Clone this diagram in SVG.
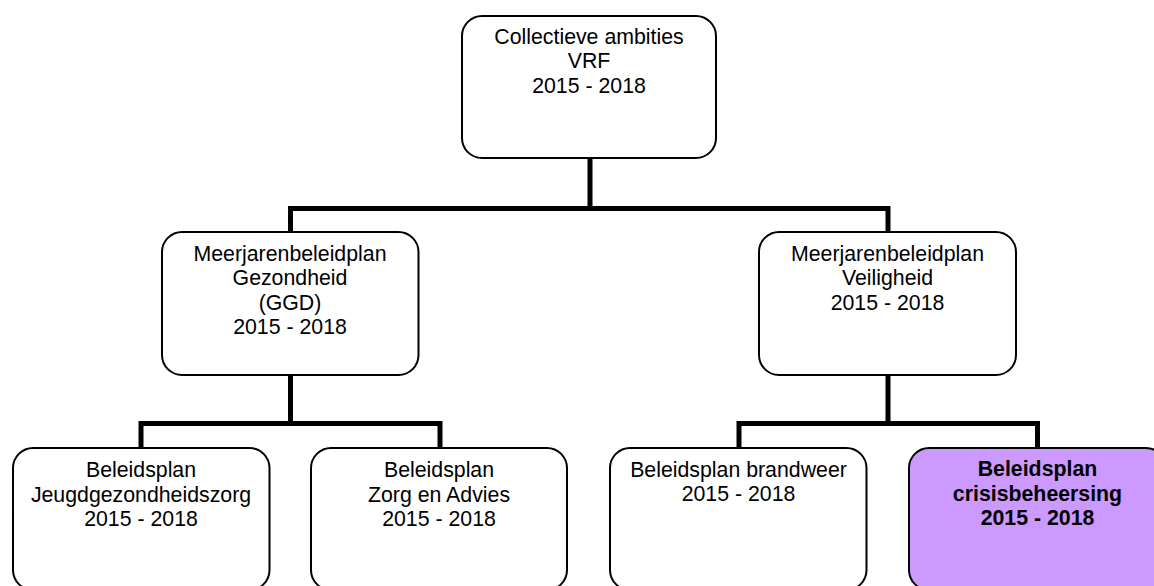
<svg xmlns="http://www.w3.org/2000/svg" width="1154" height="586" viewBox="0 0 1154 586">
<style>
.box{fill:#fff;stroke:#000;stroke-width:2}
.hl{fill:#cc99ff}
.t{font-family:"Liberation Sans",Arial,sans-serif;font-size:21.3px;fill:#000;text-anchor:middle}
.b{font-weight:bold}
.c{fill:none;stroke:#000;stroke-width:5;stroke-linecap:butt;stroke-linejoin:miter}
</style>
<rect width="1154" height="586" fill="#fff"/>
<g id="connectors">
<path class="c" d="M590,158 V208.5 M290.5,232 V208.5 H888 V232"/>
<path class="c" d="M290.5,375 V423.5 M141,448 V423.5 H440 V448"/>
<path class="c" d="M888,375 V423.5 M739,448 V423.5 H1037.5 V448"/>
</g>
<g id="n-vrf">
<rect class="box" x="462" y="16" width="254" height="142" rx="20"/>
<text class="t" x="589" y="43.5">Collectieve ambities</text>
<text class="t" x="589" y="68">VRF</text>
<text class="t" x="589" y="92.5">2015 - 2018</text>
</g>
<g id="n-gezondheid">
<rect class="box" x="162" y="232" width="256.5" height="143" rx="20"/>
<text class="t" x="290" y="260.5">Meerjarenbeleidplan</text>
<text class="t" x="290" y="285">Gezondheid</text>
<text class="t" x="290" y="309.5">(GGD)</text>
<text class="t" x="290" y="334">2015 - 2018</text>
</g>
<g id="n-veiligheid">
<rect class="box" x="759" y="232" width="257" height="143" rx="20"/>
<text class="t" x="887.5" y="260.5">Meerjarenbeleidplan</text>
<text class="t" x="887.5" y="285">Veiligheid</text>
<text class="t" x="887.5" y="309.5">2015 - 2018</text>
</g>
<g id="n-jgz">
<rect class="box" x="13" y="448" width="256.5" height="142" rx="20"/>
<text class="t" x="141" y="477">Beleidsplan</text>
<text class="t" x="141" y="501.5">Jeugdgezondheidszorg</text>
<text class="t" x="141" y="526">2015 - 2018</text>
</g>
<g id="n-zorg">
<rect class="box" x="311" y="448" width="256" height="142" rx="20"/>
<text class="t" x="439" y="477">Beleidsplan</text>
<text class="t" x="439" y="501.5">Zorg en Advies</text>
<text class="t" x="439" y="526">2015 - 2018</text>
</g>
<g id="n-brandweer">
<rect class="box" x="610" y="448" width="256.5" height="142" rx="20"/>
<text class="t" x="738.5" y="477">Beleidsplan brandweer</text>
<text class="t" x="738.5" y="501">2015 - 2018</text>
</g>
<g id="n-crisis">
<rect class="box hl" x="909" y="448" width="257" height="142" rx="20"/>
<text class="t b" x="1037.5" y="476">Beleidsplan</text>
<text class="t b" x="1037.5" y="500.5">crisisbeheersing</text>
<text class="t b" x="1037.5" y="525">2015 - 2018</text>
</g>
</svg>
